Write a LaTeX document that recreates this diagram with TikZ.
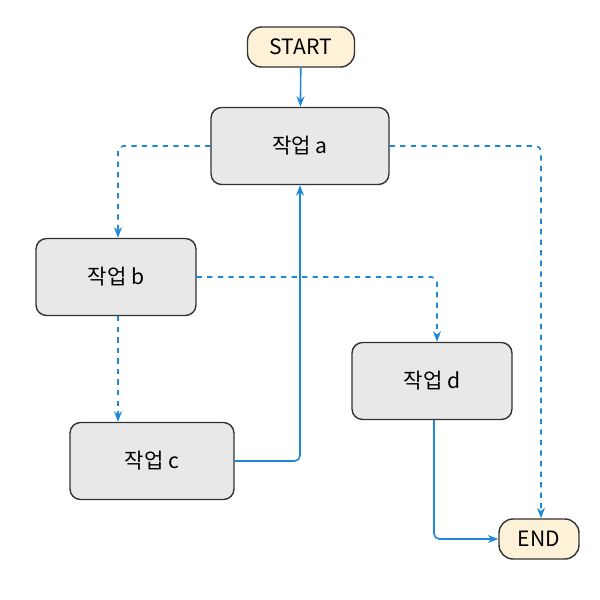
\documentclass[tikz,border=0pt]{standalone}
\usepackage{fontspec}
\setmainfont{Noto Sans CJK KR}
\usetikzlibrary{arrows.meta}
\definecolor{flowblue}{HTML}{1E88D8}
\definecolor{taskgray}{HTML}{E8E8E8}
\definecolor{termcream}{HTML}{FDF1D8}
\begin{document}
\begin{tikzpicture}[x=0.02cm, y=-0.02cm,
  task node/.style={draw=black!80, line width=0.8pt, fill=taskgray, rounded corners=6pt,
    minimum width=3.2cm, minimum height=1.54cm, font=\large},
  term node/.style={draw=black!80, line width=0.8pt, fill=termcream, rounded corners=8pt,
    minimum height=0.8cm, font=\large},
  flow/.style={draw=flowblue, line width=0.9pt, -{Stealth[length=6pt]}, rounded corners=3pt},
  alt/.style={flow, dashed}]
\useasboundingbox (0,0) rectangle (600,600);
\node[term node, minimum width=2.14cm] (start) at (301,47)  {START};
\node[task node, minimum width=3.56cm] (taska) at (300,146) {작업 a};
\node[task node] (taskb) at (116,277) {작업 b};
\node[task node, minimum width=3.28cm] (taskc) at (152,461) {작업 c};
\node[task node] (taskd) at (432,381) {작업 d};
\node[term node, minimum width=1.6cm] (end)   at (539,539) {END};

\draw[flow] (start) -- (taska);
\draw[alt] (taska.west) -| (taskb.north -| 118,0);
\draw[alt] (taska.east) -| (end.north -| 541,0);
\draw[alt] (taskb.east) -| (taskd.north -| 437,0);
\draw[alt] (taskb.south -| 118,0) -- (taskc.north -| 118,0);
\draw[flow] (taskc.east) -| (taska.south);
\draw[flow] (taskd.south -| 434,0) |- (end.west);
\end{tikzpicture}
\end{document}
